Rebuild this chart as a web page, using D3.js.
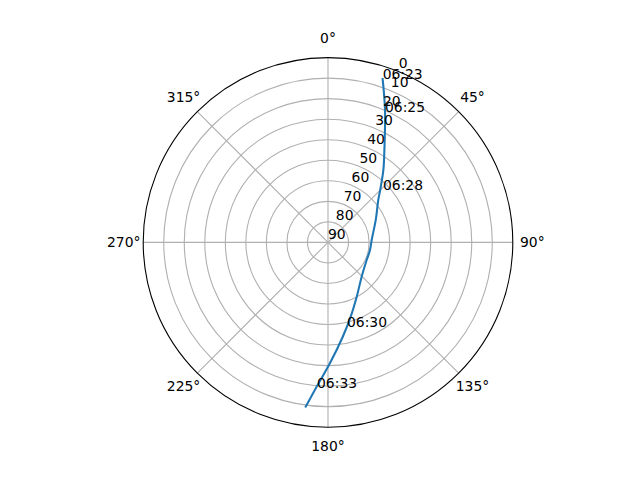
<!DOCTYPE html>
<html>
<head>
<meta charset="utf-8">
<script src="https://cdn.jsdelivr.net/npm/d3@7"></script>
<style>
  body { margin: 0; background: #fff; }
  svg text { font-family: "DejaVu Sans", sans-serif; font-size: 13.9px; fill: #000; }
</style>
</head>
<body>
<div id="chart"></div>
<script>
/* Sky plot of one satellite pass: azimuth clockwise from north, elevation 90 at centre. */

// pass track (azimuth deg, elevation deg)
const trackAz = [18.5, 23.3, 31.4, 37.4, 44.9, 49.9, 64.8, 86.9, 100.3, 114.5, 135.5, 152.1, 163.0, 171.1, 179.1, 184.5, 187.7];
const trackEl = [ 6.1, 19.8, 37.3, 45.6, 54.0, 58.0, 64.3, 68.7,  69.2,  69.3,  66.6,  60.1,  52.2,  43.5,  31.1,  19.5,   9.3];

// time annotations along the track
const timeLabels = ["06:23", "06:25", "06:28", "06:30", "06:33"];
const timeAz     = [18.5, 23.6, 46.4, 167.3, 184.3];
const timeEl     = [ 6.1, 20.7, 53.0,  47.9,  18.75];

// axis ticks
const elTicks = [0, 10, 20, 30, 40, 50, 60, 70, 80, 90];
const azTicks = [0, 45, 90, 135, 180, 225, 270, 315];
const rLabelAngle = 22.5;

const W = 640, H = 480;
const cx = 328, cy = 242.4, R = 184.8;

const svg = d3.select("#chart").append("svg")
    .attr("width", W).attr("height", H)
    .attr("viewBox", `0 0 ${W} ${H}`);
svg.append("rect").attr("width", W).attr("height", H).attr("fill", "#fff");

const g = svg.append("g").attr("transform", `translate(${cx},${cy})`);

// elevation -> radius (90 in the middle), azimuth -> angle clockwise from top
const r = d3.scaleLinear().domain([90, 0]).range([0, R]);
const rad = d => d * Math.PI / 180;
const px = (az, el) => [r(el) * Math.sin(rad(az)), -r(el) * Math.cos(rad(az))];

// grid: rings and spokes
g.selectAll("circle.ring").data(elTicks.filter(d => d > 0 && d < 90)).join("circle")
    .attr("class", "ring")
    .attr("r", d => r(d))
    .attr("fill", "none").attr("stroke", "#b0b0b0").attr("stroke-width", 1.1);

g.selectAll("line.spoke").data(azTicks).join("line")
    .attr("class", "spoke")
    .attr("x1", 0).attr("y1", 0)
    .attr("x2", d => px(d, 0)[0]).attr("y2", d => px(d, 0)[1])
    .attr("stroke", "#b0b0b0").attr("stroke-width", 1.1);

// outer spine
g.append("circle").attr("r", r(0))
    .attr("fill", "none").attr("stroke", "#000").attr("stroke-width", 1.1);

// the pass
const line = d3.lineRadial()
    .angle((d, i) => rad(trackAz[i]))
    .radius((d, i) => r(trackEl[i]))
    .curve(d3.curveCatmullRom.alpha(0.5));
g.append("path").datum(trackAz)
    .attr("d", line)
    .attr("fill", "none").attr("stroke", "#1f77b4").attr("stroke-width", 2.08)
    .attr("stroke-linecap", "square");

// azimuth labels
g.selectAll("text.az").data(azTicks).join("text")
    .attr("class", "az")
    .attr("x", d => (R + 19.5) * Math.sin(rad(d)))
    .attr("y", d => -(R + 19.5) * Math.cos(rad(d)))
    .attr("dy", "0.32em")
    .attr("text-anchor", "middle")
    .text(d => d + "°");

// elevation labels along 22.5°
g.selectAll("text.el").data(elTicks).join("text")
    .attr("class", "el")
    .attr("x", d => px(rLabelAngle, d)[0])
    .attr("y", d => px(rLabelAngle, d)[1] - 3.2)
    .attr("text-anchor", "start")
    .text(d => d);

// time annotations
g.selectAll("text.time").data(timeLabels).join("text")
    .attr("class", "time")
    .attr("x", (d, i) => px(timeAz[i], timeEl[i])[0])
    .attr("y", (d, i) => px(timeAz[i], timeEl[i])[1])
    .attr("text-anchor", "start")
    .text(d => d);
</script>
</body>
</html>
